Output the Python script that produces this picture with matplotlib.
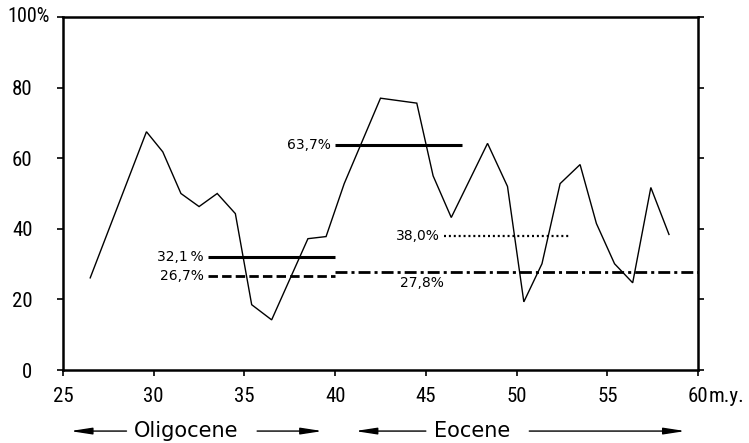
import matplotlib
matplotlib.use("Agg")
import matplotlib.pyplot as plt
import matplotlib.transforms as mtransforms
from matplotlib import font_manager as fm

# ---------------- data ----------------
ages = [26.5, 29.6, 30.5, 31.5, 32.5, 33.5, 34.5, 35.4, 36.5, 38.5, 39.5,
        40.5, 42.5, 44.5, 45.4, 46.4, 48.4, 49.5, 50.4, 51.4, 52.4, 53.5,
        54.4, 55.4, 56.4, 57.4, 58.4]
percent = [26.1, 67.5, 61.8, 50.0, 46.3, 50.0, 44.3, 18.5, 14.2, 37.2, 37.8,
           52.8, 77.0, 75.6, 55.0, 43.2, 64.2, 52.0, 19.3, 30.1, 52.8, 58.2,
           41.5, 30.1, 24.7, 51.7, 38.4]

mean_values = [32.1, 26.7, 63.7, 38.0, 27.8]
mean_labels = ["32,1\u2009%", "26,7%", "63,7%", "38,0%", "27,8%"]
mean_start = [33.0, 33.0, 40.0, 46.0, 40.0]
mean_end = [40.0, 40.0, 47.0, 53.0, 60.0]

x_ticks = [25, 30, 35, 40, 45, 50, 55, 60]
y_ticks = [0, 20, 40, 60, 80, 100]
x_unit = "m.y."
y_unit = "%"
epochs = ["Oligocene", "Eocene"]

# ---------------- fonts ----------------
fonts = fm.fontManager.ttflist
names = {f.name for f in fonts}
num_font = None
for cand in ["Liberation Sans Narrow", "Roboto Condensed", "Open Sans Condensed"]:
    if cand in names:
        num_font = dict(family=cand, size=15)
        break
if num_font is None:
    cond = [f for f in fonts if f.stretch in ("condensed", "semi-condensed")
            and f.name in ("DejaVu Sans", "Noto Sans", "Open Sans", "Roboto")]
    if cond:
        num_font = dict(family=cond[0].name, size=15, stretch=cond[0].stretch)
    else:
        num_font = dict(family="DejaVu Sans", size=13)
top_font = dict(num_font)
top_font["size"] = num_font["size"] - 0.5
lab_font = dict(family="DejaVu Sans", size=10)
era_font = dict(family="DejaVu Sans", size=15)

# ---------------- figure ----------------
fig = plt.figure(figsize=(7.49, 4.43), dpi=100)
ax = fig.add_axes([63 / 749, 1 - 370 / 443, (698 - 63) / 749, (370 - 17) / 443])

ax.plot(ages, percent, color="black", lw=1.0, solid_joinstyle="miter")

styles = [
    dict(ls="-", lw=2.2),
    dict(ls=(0, (3.4, 1.5)), lw=2.0),
    dict(ls="-", lw=2.2),
    dict(ls=(0, (0.9, 1.3)), lw=1.6),
    dict(ls=(0, (4.3, 1.45, 1.1, 1.45)), lw=2.0),
]
for v, x0, x1, st in zip(mean_values, mean_start, mean_end, styles):
    ax.hlines(v, x0, x1, colors="black", linestyles=st["ls"], lw=st["lw"])

# labels of the mean lines
for i in range(4):
    ax.annotate(mean_labels[i], xy=(mean_start[i], mean_values[i]),
                xytext=(-3, 0), textcoords="offset points",
                ha="right", va="center", **lab_font)
ax.annotate(mean_labels[4], xy=(44.8, mean_values[4]), xytext=(0, -8),
            textcoords="offset points", ha="center", va="center", **lab_font)

# axes
ax.set_xlim(25, 60)
ax.set_ylim(0, 100)
ax.set_xticks(x_ticks)
ax.set_yticks(y_ticks)
ax.set_xticklabels([str(t) for t in x_ticks], **num_font)
ax.set_yticklabels([str(t) if t != y_ticks[-1] else "" for t in y_ticks], **num_font)
for s in ax.spines.values():
    s.set_linewidth(1.8)
ax.tick_params(axis="x", direction="out", length=4, width=1.2, pad=8.5)
ax.tick_params(axis="y", direction="out", length=4, width=1.2, pad=18,
               right=True, labelright=False)

# unit labels
ax.annotate(str(y_ticks[-1]) + y_unit, xy=(0, 1), xycoords="axes fraction",
            xytext=(-40.3, 0), textcoords="offset points",
            ha="left", va="center", **top_font)
ax.annotate(x_unit, xy=(1, 0), xycoords="axes fraction", xytext=(7.5, -12.5),
            textcoords="offset points", ha="left", va="top", **num_font)

# epoch arrows
trans = mtransforms.blended_transform_factory(ax.transData, ax.transAxes)
yarr = -0.173
ap = dict(arrowstyle="-|>,head_length=1.3,head_width=0.2", lw=1.0,
          color="black", shrinkA=0, shrinkB=0)
for tip, tail in [(25.4, 28.5), (39.3, 35.7), (41.1, 45.0), (59.3, 50.7)]:
    ax.annotate("", xy=(tip, yarr), xytext=(tail, yarr), xycoords=trans,
                textcoords=trans, arrowprops=ap, annotation_clip=False)
ax.text(31.8, yarr, epochs[0], transform=trans, ha="center", va="center", **era_font)
ax.text(47.55, yarr, epochs[1], transform=trans, ha="center", va="center", **era_font)

fig.savefig("out.png", dpi=100)
